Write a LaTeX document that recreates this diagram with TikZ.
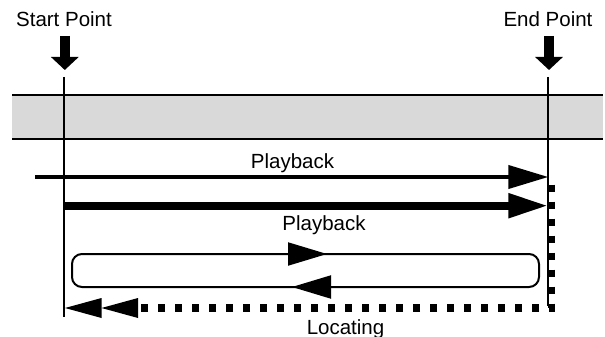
\documentclass[tikz,border=0pt]{standalone}
\usepackage{fontspec}
\setmainfont{Liberation Sans}
\usetikzlibrary{arrows.meta}

\tikzset{
  lbl/.style={font=\fontsize{20.5}{24}\selectfont, anchor=base, inner sep=0pt},
  marker/.style={line width=10pt, -{Triangle[length=13pt,width=27pt]}},
  guide/.style={line width=2pt},
  playthin/.style={line width=4pt, -{Triangle[length=40pt,width=23pt]}},
  playthick/.style={line width=8pt, -{Triangle[length=40pt,width=23pt]}},
  looptip/.style={line width=2pt, -{Triangle[length=39pt,width=23pt]}},
  loctip/.style={fill, draw=none},
  locpath/.style={line width=7.5pt, dash pattern=on 7.5pt off 9.5pt}
}

\begin{document}
\begin{tikzpicture}[x=1pt,y=-1pt]
  \useasboundingbox (0,0) rectangle (605,337);

  % banda
  \fill[black!15] (12,95) rectangle (603,139);
  \draw[guide] (12,95) -- (603,95);
  \draw[guide] (12,139) -- (603,139);

  % punti
  \node[lbl] (startlbl) at (64,27) {Start Point};
  \node[lbl] (endlbl) at (548,27) {End Point};
  \coordinate (smark) at (64.8,36);
  \coordinate (emark) at (549,36);
  \draw[marker] (smark) -- ++(0,34);
  \draw[marker] (emark) -- ++(0,34);

  \coordinate (stop) at (64.3,77);
  \coordinate (sbot) at (64.3,317);
  \coordinate (etop) at (548.3,77);
  \coordinate (ebot) at (548.3,306);
  \draw[guide] (stop) -- (sbot);
  \draw[guide] (etop) -- (ebot);

  % playback
  \coordinate (pone) at (35,177);
  \coordinate (ptwo) at (64.3,205.7);
  \draw[playthin] (pone) -- (etop |- pone);
  \draw[playthick] (ptwo) -- (etop |- ptwo);
  \node[lbl] (playone) at (292.5,168) {Playback};
  \node[lbl] (playtwo) at (324,230) {Playback};

  % ciclo
  \draw[guide, rounded corners=10pt] (72,254) rectangle (539,287);
  \draw[looptip] (288,254) -- (327,254);
  \draw[looptip] (330,287) -- (292,287);

  % locating
  \coordinate (lstart) at (551.5,184.5);
  \coordinate (lcorner) at (551.5,308);
  \coordinate (lend) at (140,308);
  \draw[locpath] (lstart) -- (lcorner) -- (lend);
  \fill[loctip] (138,298) -- (101.5,308) -- (138,318) -- cycle;
  \fill[loctip] (101.5,298) -- (65,308) -- (101.5,318) -- cycle;
  \node[lbl] (locating) at (345.5,334) {Locating};
\end{tikzpicture}
\end{document}
